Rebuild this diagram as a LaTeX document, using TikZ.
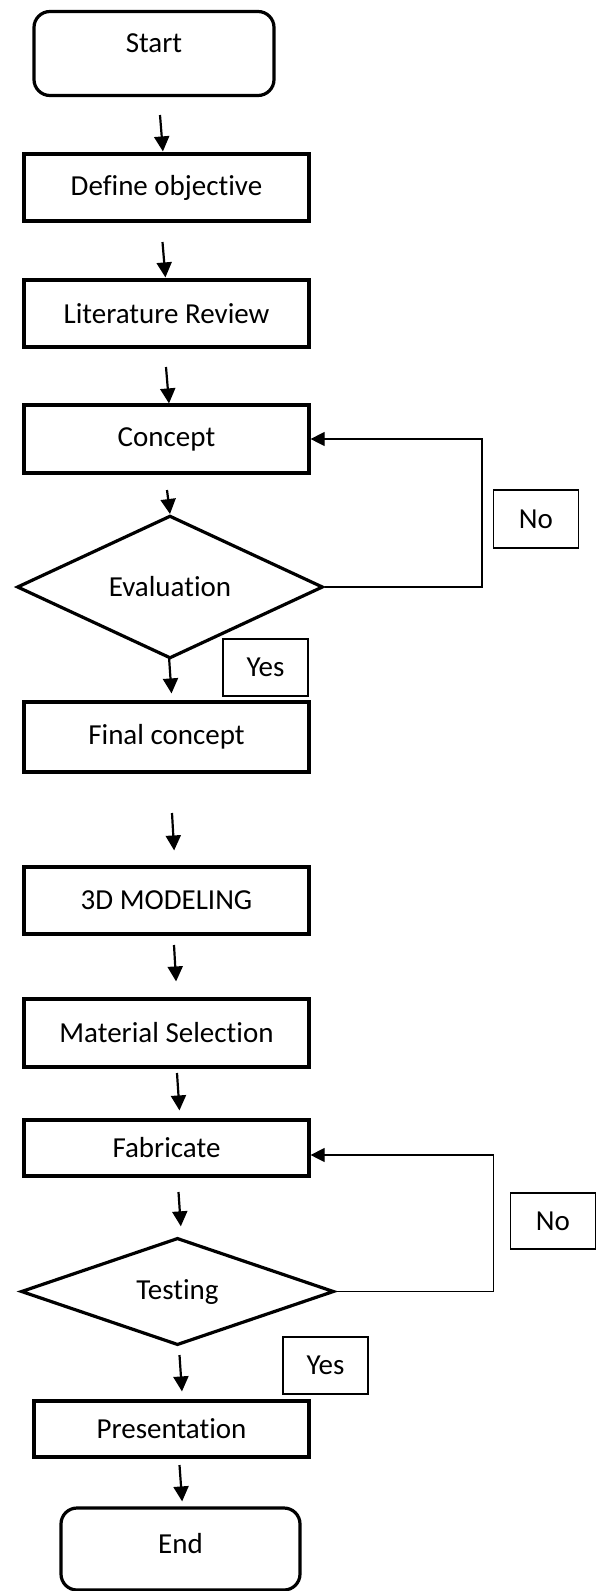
\documentclass[tikz,border=0pt]{standalone}
\usepackage{fontspec}
\setmainfont{Carlito}[Ligatures=NoCommon]
\usepackage{tikz}
\usetikzlibrary{arrows.meta, positioning, shapes.geometric}

\begin{document}
\begin{tikzpicture}[x=1pt, y=-1pt, font=\fontsize{29}{35}\selectfont,
  stepbox/.style={draw, line width=3.2pt, minimum width=285pt, minimum height=67pt, inner sep=0pt},
  termbox/.style={draw, line width=3.2pt, rounded corners=16pt, minimum width=240pt, minimum height=84pt, inner sep=0pt},
  decision/.style={draw, diamond, line width=3.2pt, inner sep=0pt},
  answer/.style={draw, line width=1.2pt, minimum width=85pt, minimum height=57pt, inner sep=0pt},
  flow/.style={-{Triangle[length=15pt,width=15pt]}, line width=2.2pt},
  loopback/.style={-{Triangle[length=14pt,width=14pt]}, line width=1.2pt}]
  \useasboundingbox (0,0) rectangle (596,1591);

  % Main column
  \node[termbox, text depth=20pt] (start) at (154,53.5) {Start};
  \node[stepbox] (defobj) at (166.5,187.5) {Define objective};
  \node[stepbox] (litrev) at (166.5,313.5) {Literature Review};
  \node[stepbox, minimum height=68pt] (concept) at (166.5,439) {Concept};
  \node[decision, minimum width=306pt, minimum height=120pt] (eval) at (170,587) {Evaluation};
  \node[stepbox, minimum height=70pt] (final) at (166.5,737) {Final concept};
  \node[stepbox] (model) at (166.5,900.5) {3D MODELING};
  \node[stepbox, minimum height=68pt] (material) at (166.5,1033) {Material Selection};
  \node[stepbox, minimum height=56pt] (fab) at (166.5,1148) {Fabricate};
  \node[decision, minimum width=313pt, minimum height=105pt] (testing) at (177.5,1291.5) {Testing};
  \node[stepbox, minimum width=275pt, minimum height=56pt] (present) at (171.5,1429) {Presentation};
  \node[termbox, minimum width=239pt, minimum height=82pt, text depth=12pt] (finish) at (180.5,1549) {End};

  % Yes / No tags
  \node[answer, minimum height=58pt] (no1) at (536,519) {No};
  \node[answer] (yes1) at (265.5,667.5) {Yes};
  \node[answer, minimum height=56pt] (no2) at (553,1221) {No};
  \node[answer] (yes2) at (325.5,1365.5) {Yes};

  % Arrows down the column
  \coordinate (a1) at (160,115);
  \coordinate (a2) at (162.5,242);
  \coordinate (a3) at (166,367);
  \coordinate (a4) at (167,490);
  \coordinate (a5) at (169,657);
  \coordinate (a6) at (172,813);
  \coordinate (a7) at (174,945);
  \coordinate (a8) at (177,1073);
  \coordinate (a9) at (178.5,1192);
  \coordinate (a10) at (179.5,1355);
  \coordinate (a11) at (179.5,1465);
  \foreach \s/\t/\g in {a1/defobj/1, a2/litrev/1, a3/concept/0, a4/eval/0, a5/final/7, a6/model/15,
      a7/material/16, a8/fab/8, a9/testing/10, a10/present/8, a11/finish/5}
    \draw[flow, shorten >=\g pt] (\s) -- ([xshift=3pt]\s |- \t.north);

  % Loops back
  \coordinate (turn1) at (482,0);
  \coordinate (turn2) at (493.5,0);
  \draw[loopback] (eval.east) -- (eval.east -| turn1) |- (concept.east);
  \draw[loopback] (testing.east) -- (testing.east -| turn2) |- ([yshift=-7pt]fab.east);
\end{tikzpicture}
\end{document}
